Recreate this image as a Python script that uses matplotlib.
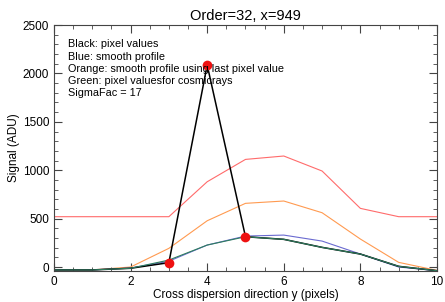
import matplotlib
matplotlib.use("Agg")
import matplotlib.pyplot as plt
from matplotlib.ticker import MultipleLocator

x = [0, 1, 2, 3, 4, 5, 6, 7, 8, 9, 10]
black = [-30, -30, -13, 45, 2087, 313, 286, 203, 134, 7, -38]
green = [-30, -30, -13, 72, 227, 313, 286, 203, 134, 7, -38]
blue = [-30, -30, -10, 60, 227, 320, 330, 268, 134, 0, -38]
orange = [-30, -30, 0, 193, 478, 658, 682, 561, 289, 48, -35]
red = [520, 520, 520, 520, 881, 1112, 1147, 992, 606, 520, 520]
cr_x = [3, 4, 5]
cr_y = [45, 2087, 313]

title = "Order=32, x=949"
xlabel = "Cross dispersion direction y (pixels)"
ylabel = "Signal (ADU)"
notes = ["Black: pixel values", "Blue: smooth profile",
         "Orange: smooth profile using last pixel value",
         "Green: pixel valuesfor cosmicrays", "SigmaFac = 17"]

plt.rcParams['font.family'] = ['Liberation Sans', 'DejaVu Sans']
fig = plt.figure(figsize=(4.45, 3.02), dpi=100)
ax = fig.add_axes([0.1213, 0.103, 0.8607, 0.814])

ax.plot(x, red, color='#ff6b6b', lw=0.8)
ax.plot(x, orange, color='#ff9a50', lw=0.8)
ax.plot(x, blue, color='#6a6ad0', lw=0.8)
ax.plot(x, black, color='black', lw=1.1)
ax.plot(x, green, color='#2e7d5e', lw=0.8)
ax.plot(cr_x, cr_y, 'o', color='#ee1111', ms=7, mec='none')

ax.set_xlim(0, 10)
ax.set_ylim(-40, 2500)
ax.xaxis.set_major_locator(MultipleLocator(2))
ax.xaxis.set_minor_locator(MultipleLocator(0.5))
ax.yaxis.set_major_locator(MultipleLocator(500))
ax.yaxis.set_minor_locator(MultipleLocator(100))
ax.tick_params(which='both', direction='in', top=True, right=True, labelsize=8.5, color='#444444')
ax.tick_params(which='major', length=6)
ax.tick_params(which='minor', length=3)
for s in ax.spines.values():
    s.set_color('#444444')
    s.set_linewidth(0.8)

ax.set_title(title, fontsize=10.5, pad=4)
ax.set_xlabel(xlabel, fontsize=8.5, labelpad=1)
ax.set_ylabel(ylabel, fontsize=8.5, labelpad=2)

for i, t in enumerate(notes):
    ax.text(0.036, 0.922 - i * 0.05, t, transform=ax.transAxes, fontsize=7.8, va='center')

fig.savefig("out.png", dpi=100)
